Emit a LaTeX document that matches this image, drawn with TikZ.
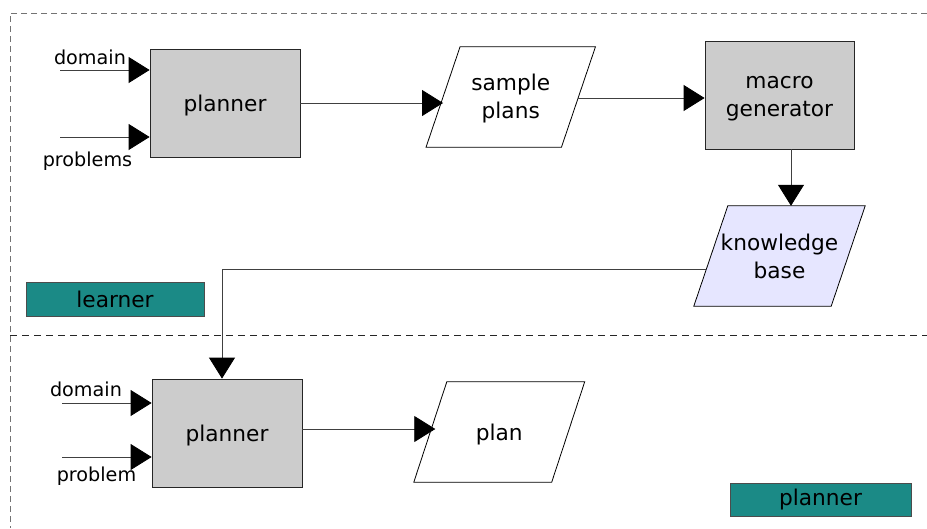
\documentclass[tikz,border=0pt]{standalone}
\usepackage{fontspec}
\setmainfont{DejaVu Sans}
\usetikzlibrary{arrows.meta,calc}
\pgfdeclarelayer{bg}
\pgfsetlayers{bg,main}
\definecolor{boxgray}{HTML}{CCCCCC}
\definecolor{kbfill}{HTML}{E6E6FF}
\definecolor{tagteal}{HTML}{1B8A86}
\newcommand\mypara[3]{%
  \begin{pgfonlayer}{bg}
  \filldraw[fill=#2,draw=black,line width=0.8pt]
    ($(#1.north west)+(#3,0)$) -- ($(#1.north east)+(#3,0)$) --
    ($(#1.south east)+(-#3,0)$) -- ($(#1.south west)+(-#3,0)$) -- cycle;
  \end{pgfonlayer}}
\begin{document}
\begin{tikzpicture}[x=1pt,y=-1pt,
  bigfont/.style={font=\fontsize{21.7}{28}\selectfont},
  procbox/.style={draw=black!85,fill=boxgray,line width=0.8pt,minimum width=150pt,minimum height=108pt,inner sep=0pt},
  databox/.style={minimum height=100pt,inner sep=0pt},
  boxtext/.style={inner sep=0pt,align=center,bigfont},
  tagbox/.style={draw=black!70,fill=tagteal,line width=0.8pt,inner sep=0pt,bigfont},
  lbl/.style={inner sep=0pt,anchor=base,font=\fontsize{19.2}{23}\selectfont},
  conn/.style={draw=black!75,line width=0.8pt,-{Triangle[length=21pt,width=26pt,color=black]}},
  outerdash/.style={draw=black!55,line width=0.8pt,dash pattern=on 6pt off 4pt},
  middash/.style={draw=black!85,line width=0.8pt,dash pattern=on 7pt off 5pt}]
\useasboundingbox (0,0) rectangle (927,528);

% frames
\draw[outerdash] (927,13) -- (10,13) -- (10,528);
\draw[middash] (10,335) -- (927,335);

% learner part
\node[procbox] (p1) at (225,103) {};
\node[boxtext] (p1t) at ($(p1)+(0,3)$) {planner};
\node[databox,minimum width=135pt] (sp) at (510.75,97) {};
\node[boxtext] (spt) at ($(sp)+(0,2)$) {sample\\plans};
\mypara{sp}{white}{17}
\node[procbox,minimum width=149pt] (mg) at (779.5,95) {};
\node[boxtext] (mgt) at ($(mg)+(0,3.5)$) {macro\\generator};
\node[databox,minimum width=137pt] (kb) at (779.5,256) {};
\node[boxtext] (kbt) at (kb) {knowledge\\base};
\mypara{kb}{kbfill}{17}
\node[tagbox,minimum width=178pt,minimum height=34pt] (learner) at (115,299) {learner};

\node[lbl] (ld1) at (90,64) {domain};
\node[lbl] (lp1) at (87.5,166) {problems};
\coordinate (d1) at (60,70);
\coordinate (q1) at (60,137);
\coordinate (s1) at ($(sp.east)+(0,1)$);
\coordinate (m1) at ($(mg.south)+(11.5,0)$);
\draw[conn] (d1) -- (d1 -| p1.west);
\draw[conn] (q1) -- (q1 -| p1.west);
\draw[conn] (p1.east) -- (p1.east -| sp.west);
\draw[conn] (s1) -- (s1 -| mg.west);
\draw[conn] (m1) -- (m1 |- kb.north);

% planner part
\node[procbox] (p2) at (227,433) {};
\node[boxtext] (p2t) at ($(p2)+(0,3)$) {planner};
\node[databox,minimum width=137.5pt] (pl) at (499.25,432) {};
\node[boxtext] (plt) at ($(pl)+(0,3)$) {plan};
\mypara{pl}{white}{16.5}
\node[tagbox,minimum width=181pt,minimum height=33pt] (plannertag) at (820.5,499.5) {planner};

\node[lbl] (ld2) at (86,396.5) {domain};
\node[lbl] (lp2) at (96.5,481.5) {problem};
\coordinate (d2) at (62,403);
\coordinate (q2) at (62,457);
\coordinate (e2) at ($(p2.east)+(0,-4)$);
\coordinate (e3) at ($(e2 -| pl.west)+(5,0)$);
\coordinate (k1) at ($(kb.west)+(-4.4,13)$);
\coordinate (n2) at ($(p2.north)+(-5,0)$);
\draw[conn] (d2) -- (d2 -| p2.west);
\draw[conn] (q2) -- (q2 -| p2.west);
\draw[conn] (e2) -- (e3);
\draw[conn] (k1) -| (n2);
\end{tikzpicture}
\end{document}
